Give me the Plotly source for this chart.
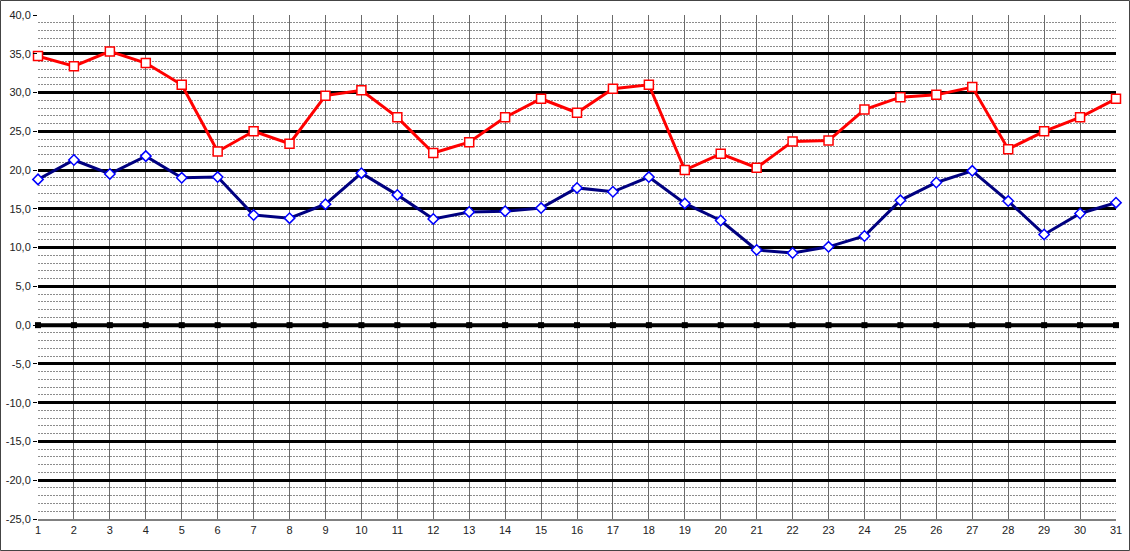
import plotly.graph_objects as go

days = list(range(1, 32))
max_temp = [34.7, 33.4, 35.3, 33.8, 31.0, 22.4, 25.0, 23.4, 29.6, 30.3,
            26.8, 22.2, 23.6, 26.8, 29.2, 27.4, 30.5, 31.0, 20.0, 22.1,
            20.3, 23.7, 23.8, 27.8, 29.4, 29.7, 30.7, 22.7, 25.0, 26.8, 29.2]
min_temp = [18.8, 21.3, 19.5, 21.8, 19.0, 19.1, 14.2, 13.8, 15.6, 19.6,
            16.8, 13.7, 14.6, 14.7, 15.1, 17.7, 17.2, 19.1, 15.7, 13.5,
            9.7, 9.3, 10.1, 11.5, 16.1, 18.4, 19.9, 16.0, 11.7, 14.4, 15.8]
zero_line = [0.0] * 31

y_tick_vals = [40, 35, 30, 25, 20, 15, 10, 5, 0, -5, -10, -15, -20, -25]
y_tick_text = ["40,0", "35,0", "30,0", "25,0", "20,0", "15,0", "10,0", "5,0",
               "0,0", "-5,0", "-10,0", "-15,0", "-20,0", "-25,0"]
x_tick_text = [str(d) for d in days]

fig = go.Figure()

fig.add_trace(go.Scatter(
    x=days, y=zero_line, mode="lines+markers",
    line=dict(color="black", width=4),
    marker=dict(symbol="square", size=6, color="black"),
    cliponaxis=False, showlegend=False))

fig.add_trace(go.Scatter(
    x=days, y=min_temp, mode="lines+markers",
    line=dict(color="#000080", width=3),
    marker=dict(symbol="diamond", size=8, color="white",
                line=dict(color="#0000FF", width=1.5)),
    cliponaxis=False, showlegend=False))

fig.add_trace(go.Scatter(
    x=days, y=max_temp, mode="lines+markers",
    line=dict(color="#FF0000", width=3),
    marker=dict(symbol="square", size=9, color="white",
                line=dict(color="#FF0000", width=1.5)),
    cliponaxis=False, showlegend=False))

font = dict(family="Liberation Sans, Arial, sans-serif", size=11, color="#222222")

fig.update_layout(
    width=1130, height=551,
    margin=dict(l=38, r=14, t=15, b=32, autoexpand=False),
    paper_bgcolor="white", plot_bgcolor="white",
    font=font,
    xaxis=dict(
        range=[1, 31], tickmode="array", tickvals=days, ticktext=x_tick_text,
        showgrid=True, gridcolor="#6a6a6a", gridwidth=1,
        showline=True, linecolor="#808080", linewidth=2,
        zeroline=False, ticks="", tickfont=font, fixedrange=True),
    yaxis=dict(
        range=[-25, 40], tickmode="array", tickvals=y_tick_vals, ticktext=y_tick_text,
        showgrid=True, gridcolor="black", gridwidth=3,
        zeroline=False, showline=False,
        ticks="outside", ticklen=4, tickcolor="black", tickwidth=1,
        tickfont=font,
        minor=dict(tickmode="linear", tick0=0, dtick=1, showgrid=True,
                   gridcolor="#8c8c8c", gridwidth=1, griddash="2px,1px", ticks=""),
        fixedrange=True),
    shapes=[dict(type="rect", xref="paper", yref="paper",
                 x0=-38 / 1078 + 0.5 / 1078, x1=1 + 13.5 / 1078,
                 y0=-32 / 504 + 0.5 / 504, y1=1 + 14.5 / 504,
                 line=dict(color="#444444", width=1), layer="above")],
)

fig.write_html("out.html", config={"displayModeBar": False},
               post_script="document.body.style.margin='0';document.body.style.padding='0';")
